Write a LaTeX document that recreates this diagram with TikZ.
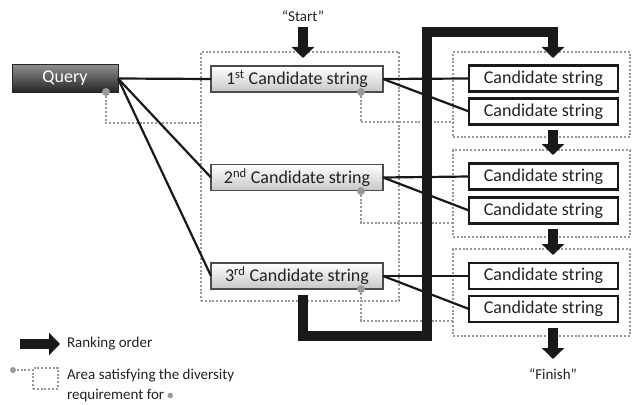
\documentclass[tikz,border=0pt]{standalone}
\usepackage{fontspec}
\setmainfont{Carlito}
\usetikzlibrary{arrows.meta}
\definecolor{dotc}{HTML}{999999}
\definecolor{txt}{HTML}{222222}
\begin{document}
\begin{tikzpicture}[x=1pt,y=-1pt,
  every node/.style={inner sep=0pt, outer sep=0pt, text=txt},
  big/.style={font=\fontsize{18}{20}\selectfont},
  small/.style={font=\fontsize{15}{17}\selectfont},
  qbox/.style={big, draw=black!85, line width=1pt, top color=black!45, bottom color=black!85, text=white, minimum width=106pt, minimum height=27pt},
  cbox/.style={big, draw=black!70, line width=1.3pt, top color=white, bottom color=black!22, minimum width=172pt, minimum height=26pt},
  rbox/.style={big, draw=black!90, line width=2.2pt, fill=white, minimum width=149pt, minimum height=26pt},
  area/.style={draw=dotc, line width=2pt, dash pattern=on 2pt off 1.8pt},
  dotline/.style={draw=dotc, line width=2pt, dash pattern=on 2pt off 1.8pt},
  link/.style={draw=black!90, line width=2.2pt},
  rank/.style={draw=black!90, line width=10pt, line join=miter, -{Triangle[width=22pt,length=11pt]}},
  ddot/.style={fill=dotc},
]
\useasboundingbox (0,0) rectangle (634,404);

% diversity areas
\node[area, minimum width=198pt, minimum height=249pt] (A0) at (300,176.5) {};
\node[area, minimum width=177pt, minimum height=85pt] (A1) at (541.5,94.5) {};
\node[area, minimum width=177pt, minimum height=87pt] (A2) at (541.5,193.5) {};
\node[area, minimum width=177pt, minimum height=87pt] (A3) at (541.5,292.5) {};

% boxes
\node[qbox] (Q) at (65,78.5) {Query};
\node[cbox] (C1) at (297,79) {1\textsuperscript{st} Candidate string};
\node[cbox] (C2) at (297,177.5) {2\textsuperscript{nd} Candidate string};
\node[cbox] (C3) at (297,276) {3\textsuperscript{rd} Candidate string};

\node[rbox] (R1a) at (543.5,78.5) {Candidate string};
\node[rbox] (R1b) at (543.5,111.5) {Candidate string};
\node[rbox] (R2a) at (543.5,176.5) {Candidate string};
\node[rbox] (R2b) at (543.5,210.5) {Candidate string};
\node[rbox] (R3a) at (543.5,276) {Candidate string};
\node[rbox] (R3b) at (543.5,309) {Candidate string};

% diversity dots
\coordinate (dq) at (106,92);
\coordinate (d1) at (361,92);
\coordinate (d2) at (361,191);
\coordinate (d3) at (361,289);

\draw[dotline] (dq) |- (A0.west |- 0,123);
\draw[dotline] (d1) |- (A1.west |- 0,122);
\draw[dotline] (d2) |- (A2.west |- 0,223);
\draw[dotline] (d3) |- (A3.west |- 0,321);
\foreach \d in {dq,d1,d2,d3} \fill[ddot] (\d) circle (4pt);

% links
\draw[link] (Q.east) -- (C1.west);
\draw[link] (Q.east) -- (C2.west);
\draw[link] (Q.east) -- (C3.west);
\draw[link] (C1.east) -- (R1a.west);
\draw[link] (C1.east) -- (R1b.west);
\draw[link] (C2.east) -- (R2a.west);
\draw[link] (C2.east) -- (R2b.west);
\draw[link] (C3.east) -- (R3a.west);
\draw[link] (C3.east) -- (R3b.west);

% ranking order
\node[small] (start) at (303,16) {“Start”};
\node[small] (finish) at (553,374) {“Finish”};
\coordinate (s0) at (303,27);
\coordinate (s1) at (303,58);
\draw[rank] (s0) -- (s1);
\coordinate (b0) at (303,295);
\coordinate (b1) at (553,58);
\draw[rank] (b0) -- (303,336) -- (427,336) -- (427,32) -- (553,32) -- (b1);
\coordinate (g1a) at (553,130);
\coordinate (g1b) at (553,155);
\draw[rank] (g1a) -- (g1b);
\coordinate (g2a) at (553,229);
\coordinate (g2b) at (553,255);
\draw[rank] (g2a) -- (g2b);
\coordinate (g3a) at (553,328);
\coordinate (g3b) at (553,359);
\draw[rank] (g3a) -- (g3b);

% legend
\coordinate (la0) at (20,344);
\coordinate (la1) at (60,344);
\draw[rank] (la0) -- (la1);
\node[small, anchor=west] (lt1) at (67,344) {Ranking order};

\coordinate (ld) at (13,370);
\node[area, minimum width=25pt, minimum height=21pt] (lbox) at (45.5,378) {};
\draw[dotline] (ld) -- (lbox.west |- ld);
\fill[ddot] (ld) circle (3pt);
\node[small, anchor=west] (lt2) at (67,376) {Area satisfying the diversity};
\node[small, anchor=west] (lt3) at (67,395.5) {requirement for};
\fill[ddot] ([xshift=6pt]lt3.east) circle (2.8pt);
\end{tikzpicture}
\end{document}
